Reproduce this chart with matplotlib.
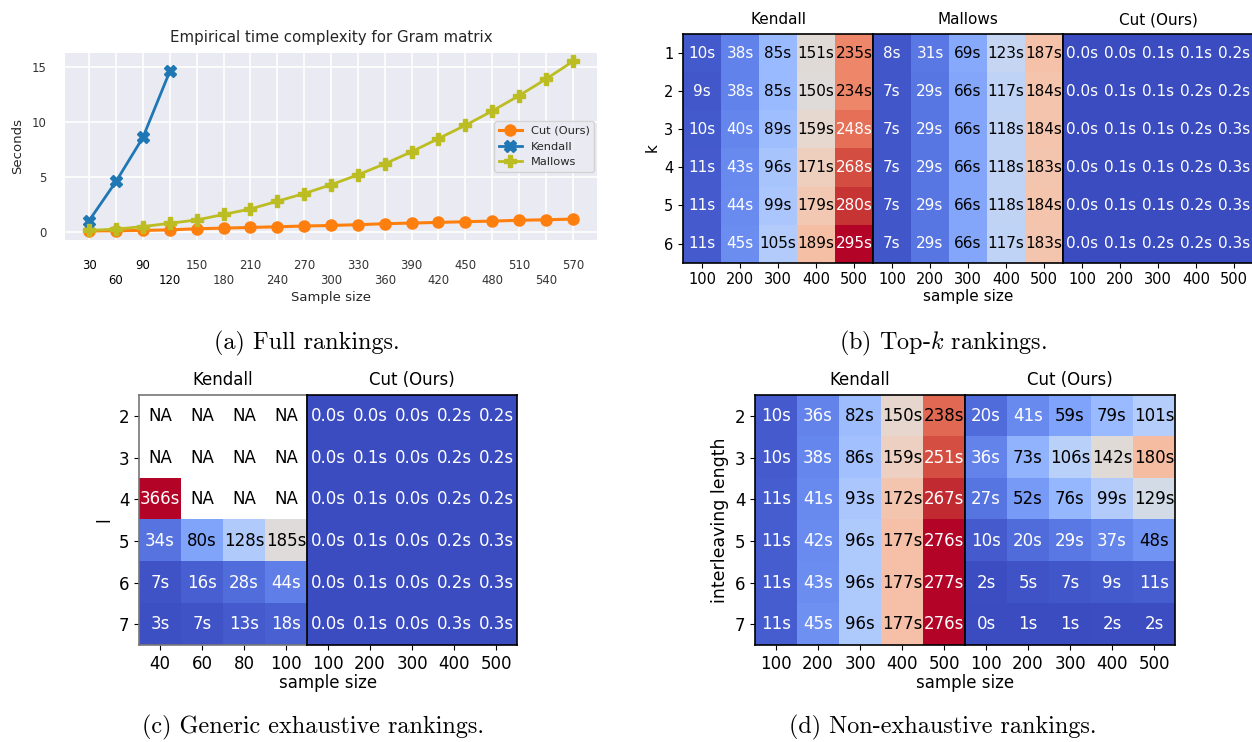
import numpy as np
import matplotlib
matplotlib.use("Agg")
import matplotlib.pyplot as plt
from matplotlib.colors import Normalize

plt.rcParams['mathtext.fontset'] = 'cm'

# ---------------- data ----------------
# (a) Full rankings
sizes = [30, 60, 90, 120, 150, 180, 210, 240, 270, 300, 330, 360, 390, 420, 450, 480, 510, 540, 570]
cut_secs = [0.10, 0.12, 0.15, 0.20, 0.30, 0.36, 0.42, 0.48, 0.55, 0.60, 0.67, 0.76, 0.82, 0.88, 0.94, 1.00, 1.07, 1.12, 1.18]
kendall_sizes = [30, 60, 90, 120]
kendall_secs = [1.05, 4.6, 8.6, 14.6]
mallows_secs = [0.15, 0.27, 0.50, 0.80, 1.10, 1.60, 2.10, 2.80, 3.50, 4.30, 5.20, 6.20, 7.30, 8.50, 9.70, 11.0, 12.4, 13.9, 15.5]

# (b) Top-k rankings
k_values = [1, 2, 3, 4, 5, 6]
b_sample = [100, 200, 300, 400, 500]
b_kendall = [[10, 38, 85, 151, 235],
             [9, 38, 85, 150, 234],
             [10, 40, 89, 159, 248],
             [11, 43, 96, 171, 268],
             [11, 44, 99, 179, 280],
             [11, 45, 105, 189, 295]]
b_mallows = [[8, 31, 69, 123, 187],
             [7, 29, 66, 117, 184],
             [7, 29, 66, 118, 184],
             [7, 29, 66, 118, 183],
             [7, 29, 66, 118, 184],
             [7, 29, 66, 117, 183]]
b_cut = [[0.0, 0.0, 0.1, 0.1, 0.2],
         [0.0, 0.1, 0.1, 0.2, 0.2],
         [0.0, 0.1, 0.1, 0.2, 0.3],
         [0.0, 0.1, 0.1, 0.2, 0.3],
         [0.0, 0.1, 0.1, 0.2, 0.3],
         [0.0, 0.1, 0.2, 0.2, 0.3]]

# (c) Generic exhaustive rankings
l_values = [2, 3, 4, 5, 6, 7]
c_kendall_sample = [40, 60, 80, 100]
c_cut_sample = [100, 200, 300, 400, 500]
nan = np.nan
c_kendall = [[nan, nan, nan, nan],
             [nan, nan, nan, nan],
             [366, nan, nan, nan],
             [34, 80, 128, 185],
             [7, 16, 28, 44],
             [3, 7, 13, 18]]
c_cut = [[0.0, 0.0, 0.0, 0.2, 0.2],
         [0.0, 0.1, 0.0, 0.2, 0.2],
         [0.0, 0.1, 0.0, 0.2, 0.2],
         [0.0, 0.1, 0.0, 0.2, 0.3],
         [0.0, 0.1, 0.0, 0.2, 0.3],
         [0.0, 0.1, 0.0, 0.3, 0.3]]

# (d) Non-exhaustive rankings
il_values = [2, 3, 4, 5, 6, 7]
d_sample = [100, 200, 300, 400, 500]
d_kendall = [[10, 36, 82, 150, 238],
             [10, 38, 86, 159, 251],
             [11, 41, 93, 172, 267],
             [11, 42, 96, 177, 276],
             [11, 43, 96, 177, 277],
             [11, 45, 96, 177, 276]]
d_cut = [[20, 41, 59, 79, 101],
         [36, 73, 106, 142, 180],
         [27, 52, 76, 99, 129],
         [10, 20, 29, 37, 48],
         [2, 5, 7, 9, 11],
         [0, 1, 1, 2, 2]]

# ---------------- figure ----------------
W, H = 1252, 742
fig = plt.figure(figsize=(W / 100, H / 100), dpi=100)


def px_axes(x0, y0, x1, y1):
    return fig.add_axes([x0 / W, 1 - y1 / H, (x1 - x0) / W, (y1 - y0) / H])


def fx(x):
    return x / W


def fy(y):
    return 1 - y / H


# ---------- panel (a) ----------
ax = px_axes(65, 53, 597, 240)
ax.set_facecolor('#EAEAF2')
for s in ax.spines.values():
    s.set_visible(False)
ax.grid(True, color='white', lw=1.2)
ax.set_axisbelow(True)
ax.plot(sizes, cut_secs, color='#ff7f0e', marker='o', ms=8, lw=2.2, label='Cut (Ours)')
ax.plot(kendall_sizes, kendall_secs, color='#1f77b4', marker='X', ms=9, lw=2, label='Kendall')
ax.plot(sizes, mallows_secs, color='#bcbd22', marker='P', ms=9, lw=2, label='Mallows')
ax.set_xlim(3, 597)
ax.set_ylim(-0.72, 16.27)
ax.set_xticks(sizes)
ax.set_xticklabels([str(s) if i % 2 == 0 else '\n' + str(s) for i, s in enumerate(sizes)])
ax.set_yticks([0, 5, 10, 15])
ax.tick_params(axis='x', length=0, pad=13.5, labelsize=8.4, labelcolor='#333333')
ax.tick_params(axis='y', length=0, pad=13, labelsize=8.4, labelcolor='#333333')
for lab, s in zip(ax.get_xticklabels(), sizes):
    if s in kendall_sizes:
        lab.set_color('#000000')
ax.set_title('Empirical time complexity for Gram matrix', fontsize=10.8, color='#262626', pad=8)
ax.set_xlabel('Sample size', fontsize=9.5, color='#262626', labelpad=3)
ax.set_ylabel('Seconds', fontsize=9.5, color='#262626', labelpad=6)
leg = ax.legend(loc='center right', fontsize=8.2, borderaxespad=0.25, facecolor='#EAEAF2',
                edgecolor='#cccccc', framealpha=0.8, markerscale=1.0)
for t in leg.get_texts():
    t.set_color('#262626')


# ---------- heatmap helpers ----------
def heat_block(x0, y0, cell_w, cell_h, data, xlabels, norm, fmt, fs_tick, fs_annot,
               title, fs_title, hi, ylabels=None, spine_color='black'):
    data = np.array(data, dtype=float)
    nr, nc = data.shape
    a = px_axes(x0, y0, x0 + nc * cell_w, y0 + nr * cell_h)
    a.imshow(np.ma.masked_invalid(data), cmap='coolwarm', norm=norm, aspect='auto',
             interpolation='nearest')
    a.set_facecolor('white')
    for i in range(nr):
        for j in range(nc):
            v = data[i, j]
            if np.isnan(v):
                a.text(j, i, 'NA', ha='center', va='center', fontsize=fs_annot, color='black')
                continue
            t = norm(v)
            col = 'black' if 0.167 < t < hi else 'white'
            a.text(j, i, fmt.format(v), ha='center', va='center', fontsize=fs_annot, color=col)
    a.set_xticks(range(nc))
    a.set_xticklabels([str(x) for x in xlabels])
    if ylabels is not None:
        a.set_yticks(range(nr))
        a.set_yticklabels([str(y) for y in ylabels])
    else:
        a.set_yticks([])
    a.tick_params(labelsize=fs_tick)
    for s in a.spines.values():
        s.set_color(spine_color)
        s.set_linewidth(1.2)
    a.set_title(title, fontsize=fs_title, pad=7)
    return a


# ---------- panel (b) ----------
norm_b = Normalize(0, 295)
cw = 38
bx0, by0, bch = 683, 34, 38.1
heat_block(bx0, by0, cw, bch, b_kendall, b_sample, norm_b, '{:.0f}s', 10.5, 11, 'Kendall', 11, 0.82,
           ylabels=k_values)
heat_block(bx0 + 5 * cw, by0, cw, bch, b_mallows, b_sample, norm_b, '{:.0f}s', 10.5, 11, 'Mallows', 11, 0.82)
heat_block(bx0 + 10 * cw, by0, cw, bch, b_cut, b_sample, norm_b, '{:.1f}s', 10.5, 11, 'Cut (Ours)', 11, 0.82)
fig.text(fx(968), fy(297), 'sample size', ha='center', va='center', fontsize=11)
fig.text(fx(652), fy(148), 'k', ha='center', va='center', fontsize=11, rotation=90)

# ---------- panel (c) ----------
norm_c = Normalize(0, 366)
cc = 42
cx0, cy0, cch = 139, 395, 41.7
heat_block(cx0, cy0, cc, cch, c_kendall, c_kendall_sample, norm_c, '{:.0f}s', 12, 12, 'Kendall', 12,
           0.82, ylabels=l_values, spine_color='#777777')
heat_block(cx0 + 4 * cc, cy0, cc, cch, c_cut, c_cut_sample, norm_c, '{:.1f}s', 12, 12, 'Cut (Ours)', 12, 0.82)
fig.text(fx(328), fy(683), 'sample size', ha='center', va='center', fontsize=12)
fig.text(fx(104), fy(520), 'l', ha='center', va='center', fontsize=12, rotation=90)

# ---------- panel (d) ----------
norm_d = Normalize(0, 277)
dx0, dy0 = 755, 395
heat_block(dx0, dy0, cc, cch, d_kendall, d_sample, norm_d, '{:.0f}s', 12, 12, 'Kendall', 12, 0.88,
           ylabels=il_values)
heat_block(dx0 + 5 * cc, dy0, cc, cch, d_cut, d_sample, norm_d, '{:.0f}s', 12, 12, 'Cut (Ours)', 12, 0.88)
fig.text(fx(965), fy(683), 'sample size', ha='center', va='center', fontsize=12)
fig.text(fx(720), fy(520), 'interleaving length', ha='center', va='center', fontsize=12.5, rotation=90)

# ---------- captions ----------
cap_kw = dict(ha='center', va='center', fontsize=17.4, family='cmr10')
fig.text(fx(307), fy(343), '(a) Full rankings.', **cap_kw)
fig.text(fx(943), fy(343), '(b) Top-$k$ rankings.', **cap_kw)
fig.text(fx(313), fy(727), '(c) Generic exhaustive rankings.', **cap_kw)
fig.text(fx(943), fy(727), '(d) Non-exhaustive rankings.', **cap_kw)

fig.savefig('out.png', dpi=100)
